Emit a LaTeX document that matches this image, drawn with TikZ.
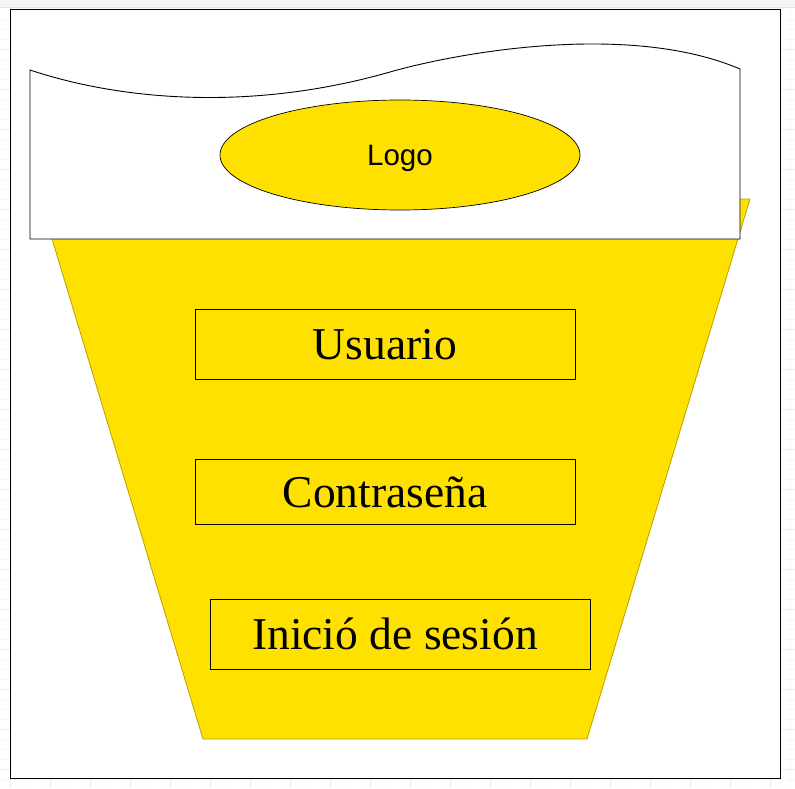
\documentclass[tikz,border=0pt]{standalone}
\usepackage{fontspec}
\setmainfont{Liberation Serif}
\newfontfamily\logofont{Liberation Sans}
\usetikzlibrary{shapes.geometric}
\definecolor{funnel}{RGB}{255,225,0}
\definecolor{funneledge}{RGB}{185,160,0}
\begin{document}
\begin{tikzpicture}[x=1pt,y=-1pt,
  minorgrid/.style={draw=gray!6, line width=0.6pt},
  majorgrid/.style={draw=gray!14, line width=0.6pt},
  field/.style={draw=black, line width=0.9pt, minimum width=380pt,
    minimum height=70pt, inner sep=0pt, text height=31pt, text depth=0pt,
    font=\fontsize{45.5}{50}\selectfont},
  logoshape/.style={ellipse, draw=black, line width=0.7pt, fill=funnel,
    minimum width=360pt, minimum height=110pt, inner sep=0pt,
    text height=21pt, text depth=0pt, font=\logofont\fontsize{29.5}{32}\selectfont}]
\useasboundingbox (0,0) rectangle (795,788);

% drawing page with its ruler band and grid
\fill[gray!8] (0,0) rectangle (795,7.5);
\draw[gray!22] (0,7.5) -- (795,7.5);
\foreach \y in {19,29,...,788} \draw[minorgrid] (0,\y) -- (795,\y);
\foreach \x in {20,30,...,795} \draw[minorgrid] (\x,7.5) -- (\x,788);
\foreach \y in {49,89,...,788} \draw[majorgrid] (0,\y) -- (795,\y);
\foreach \x in {10,50,...,795} \draw[majorgrid] (\x,7.5) -- (\x,788);
\draw[fill=white, line width=1pt] (10,9) rectangle (780,778);

% funnel body
\filldraw[fill=funnel, draw=funneledge, line width=0.8pt]
  (40,199) -- (750,199) -- (587,739) -- (203,739) -- cycle;

% wavy header banner
\draw[fill=white, line width=0.9pt]
  (30,239) -- (30,70)
  .. controls (120,100) and (250,112) .. (390,72)
  .. controls (460,52) and (630,22) .. (740,69)
  -- (740,239) -- cycle;

% logo and form fields
\node[logoshape] (logo) at (400,155) {Logo};
\node[field] (usuario) at (385,344) {Usuario};
\node[field, minimum height=65pt] (contrasena) at (385,491.5) {Contraseña};
\node[field] (inicio) at (400,634) {Inició de sesión\hspace*{10pt}};
\end{tikzpicture}
\end{document}
